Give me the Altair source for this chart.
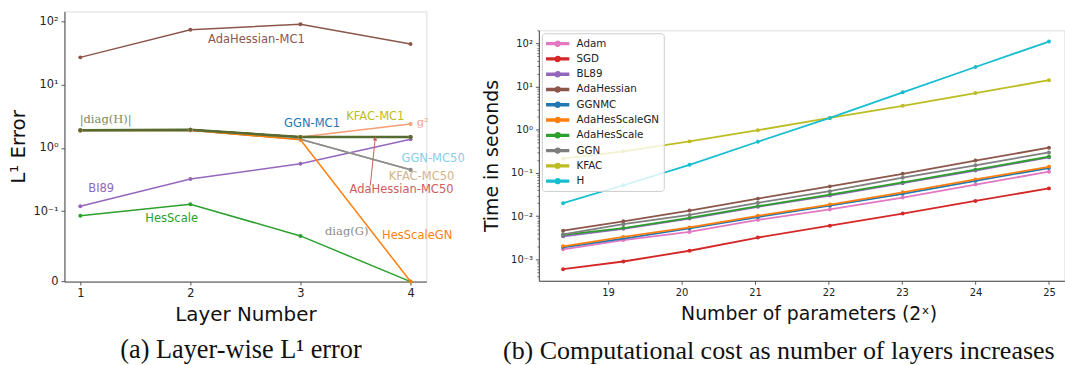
import altair as alt
import pandas as pd

# ---------------- Panel (a): layer-wise L1 error ----------------
layers = [1, 2, 3, 4]
err_bl89 = [0.120, 0.324, 0.562, 1.37]
err_hesscale = [0.0937, 0.129, 0.0649, 0.0]
err_adahessian_mc1 = [27.0, 74.0, 90.0, 44.0]
err_ggn_mc1 = [1.90, 1.94, 1.49, 1.49]
err_kfac_mc1 = [1.90, 1.94, 1.49, 1.49]
err_adahessian_mc50 = [1.90, 1.94, 1.49, 1.49]
err_ggn_mc50 = [1.88, 1.90, 1.37, 0.45]
err_kfac_mc50 = [1.88, 1.90, 1.37, 0.452]
err_diag_g = [1.88, 1.90, 1.37, 0.452]
err_hesscalegn = [1.88, 1.90, 1.35, 0.0]
err_g2 = [1.90, 1.94, 1.49, 2.40]
err_diag_h = [1.90, 1.94, 1.49, 1.49]

series_a = [
    ("BI89", err_bl89, "#9467bd"),
    ("HesScale", err_hesscale, "#2ca02c"),
    ("AdaHessian-MC1", err_adahessian_mc1, "#8c564b"),
    ("GGN-MC1", err_ggn_mc1, "#1f77b4"),
    ("KFAC-MC1", err_kfac_mc1, "#bcbd22"),
    ("AdaHessian-MC50", err_adahessian_mc50, "#cd5c5c"),
    ("GGN-MC50", err_ggn_mc50, "#87ceeb"),
    ("KFAC-MC50", err_kfac_mc50, "#d2b48c"),
    ("diag(G)", err_diag_g, "#8c8c8c"),
    ("HesScaleGN", err_hesscalegn, "#ff7f0e"),
    ("g2", err_g2, "#f79d72"),
    ("|diag(H)|", err_diag_h, "#556b2f"),
]
rows_a = []
for name, vals, col in series_a:
    for l, v in zip(layers, vals):
        rows_a.append({"series": name, "x": l, "v": v, "c": col})
df_a = pd.DataFrame(rows_a)

# annotation labels (text, x, value, colour)
ann_sans_text = ["AdaHessian-MC1", "GGN-MC1", "KFAC-MC1", "GGN-MC50", "KFAC-MC50",
                 "AdaHessian-MC50", "BI89", "HesScale", "HesScaleGN"]
ann_sans_x = [2.60, 3.105, 3.68, 4.205, 4.10, 3.918, 1.19, 1.83, 4.06]
ann_sans_v = [51.6, 2.35, 3.06, 0.665, 0.352, 0.2175, 0.225, 0.0895, 0.0649]
ann_sans_c = ["#8c564b", "#1f77b4", "#bcbd22", "#87ceeb", "#d2b48c",
              "#cd5c5c", "#9467bd", "#2ca02c", "#ff7f0e"]
ann_serif_text = ["|diag(H)|", "g²", "diag(G)"]
ann_serif_x = [1.23, 4.11, 3.42]
ann_serif_v = [2.72, 2.47, 0.0705]
ann_serif_c = ["#7d8a5c", "#f7a27c", "#8c8c8c"]
arrow_from = (3.634, 0.254)
arrow_to = (3.679, 1.416)

df_sans = pd.DataFrame({"label": ann_sans_text, "x": ann_sans_x, "v": ann_sans_v, "c": ann_sans_c})
df_serif = pd.DataFrame({"label": ann_serif_text, "x": ann_serif_x, "v": ann_serif_v, "c": ann_serif_c})
df_arrow = pd.DataFrame({"x": [arrow_from[0]], "v": [arrow_from[1]],
                         "x2": [arrow_to[0]], "v2": [arrow_to[1]]})

SYMLOG = "datum.{f} <= 0.1 ? datum.{f} / 0.1 * 1.1111 : 1.1111 + log(datum.{f} / 0.1) / LN10"

axis_common = dict(grid=False, domainColor="#444", tickColor="#444", labelColor="#222",
                   titleColor="#111", titleFontWeight="normal", tickSize=3.5, tickWidth=0.9,
                   domainWidth=1.0, labelFont="DejaVu Sans", titleFont="DejaVu Sans")

x_a = alt.X("x:Q", scale=alt.Scale(domain=[0.856, 4.144], nice=False, zero=False),
            axis=alt.Axis(values=layers, format="d", title="Layer Number", labelFontSize=11.5,
                          titleFontSize=20, titlePadding=5.5, labelPadding=3, **axis_common))
y_a = alt.Y("t:Q", scale=alt.Scale(domain=[0, 4.268], nice=False, zero=False),
            axis=alt.Axis(values=[0, 1.1111, 2.1111, 3.1111, 4.1111],
                          labelExpr="datum.value < 0.5 ? '0' : datum.value < 1.6 ? '10⁻¹' : datum.value < 2.6 ? '10⁰' : datum.value < 3.6 ? '10¹' : '10²'",
                          title="L¹ Error", labelFontSize=11.5, titleFontSize=20, titlePadding=4,
                          labelPadding=3, **axis_common))
col_a = alt.Color("c:N", scale=None, legend=None)

base_a = alt.Chart(df_a).transform_calculate(t=SYMLOG.format(f="v"))
lines_a = base_a.mark_line(strokeWidth=1.5).encode(x=x_a, y=y_a, color=col_a, detail="series:N")
thick_a = base_a.transform_filter(alt.datum.series == "|diag(H)|").mark_line(strokeWidth=2.6).encode(
    x=x_a, y=y_a, color=col_a)
pts_a = base_a.mark_circle(size=16, opacity=1).encode(x=x_a, y=y_a, color=col_a)
txt_sans = alt.Chart(df_sans).transform_calculate(t=SYMLOG.format(f="v")).mark_text(
    font="DejaVu Sans", fontSize=11.6, align="center", baseline="middle").encode(
    x=x_a, y=y_a, text="label:N", color=col_a)
txt_serif = alt.Chart(df_serif).transform_calculate(t=SYMLOG.format(f="v")).mark_text(
    font="DejaVu Serif", fontSize=11.6, align="center", baseline="middle").encode(
    x=x_a, y=y_a, text="label:N", color=col_a)
arrow_base = alt.Chart(df_arrow).transform_calculate(t=SYMLOG.format(f="v"), t2=SYMLOG.format(f="v2"))
arrow_rule = arrow_base.mark_rule(color="#cd5c5c", strokeWidth=1).encode(
    x=x_a, y=y_a, x2="x2:Q", y2="t2:Q")
arrow_head = arrow_base.mark_point(shape="triangle-up", filled=True, size=22, color="#cd5c5c",
                                   opacity=1, angle=6).encode(
    x=alt.X("x2:Q", scale=alt.Scale(domain=[0.856, 4.144], nice=False, zero=False)),
    y=alt.Y("t2:Q", scale=alt.Scale(domain=[0, 4.268], nice=False, zero=False)))

left = alt.layer(lines_a, thick_a, pts_a, arrow_rule, arrow_head, txt_sans, txt_serif).properties(
    width=365, height=272.4,
    title=alt.TitleParams("(a) Layer-wise L¹ error", orient="bottom", font="Liberation Serif",
                          fontSize=26.5, fontWeight="normal", anchor="middle", frame="group",
                          dx=-4.5, offset=13, color="#111"))

# ---------------- Panel (b): computational cost ----------------
params_log2 = [18.39, 19.21, 20.11, 21.04, 22.02, 23.01, 24.0, 25.0]
t_adam = [0.0017, 0.0028, 0.0043, 0.0082, 0.0143, 0.027, 0.054, 0.107]
t_sgd = [0.00059, 0.00089, 0.00158, 0.0032, 0.0060, 0.0115, 0.0225, 0.044]
t_bl89 = [0.0034, 0.0051, 0.0088, 0.0165, 0.030, 0.058, 0.114, 0.23]
t_adahessian = [0.0046, 0.0076, 0.0135, 0.0255, 0.049, 0.096, 0.194, 0.385]
t_ggnmc = [0.0019, 0.0030, 0.0052, 0.0095, 0.0175, 0.033, 0.066, 0.13]
t_adahesscalegn = [0.0020, 0.0033, 0.0055, 0.0102, 0.0186, 0.0357, 0.071, 0.139]
t_adahesscale = [0.0037, 0.0053, 0.0091, 0.0170, 0.0315, 0.0605, 0.119, 0.24]
t_ggn = [0.0038, 0.0065, 0.0107, 0.0204, 0.038, 0.078, 0.151, 0.30]
t_kfac = [0.215, 0.318, 0.54, 0.98, 1.89, 3.6, 7.1, 14.1]
t_h = [0.020, 0.052, 0.155, 0.53, 1.89, 7.4, 28.5, 111.0]

names_b = ["Adam", "SGD", "BL89", "AdaHessian", "GGNMC", "AdaHesScaleGN", "AdaHesScale", "GGN", "KFAC", "H"]
vals_b = [t_adam, t_sgd, t_bl89, t_adahessian, t_ggnmc, t_adahesscalegn, t_adahesscale, t_ggn, t_kfac, t_h]
colors_b = ["#e377c2", "#d62728", "#9467bd", "#8c564b", "#1f77b4", "#ff7f0e", "#2ca02c", "#7f7f7f", "#bcbd22", "#17becf"]

major_ticks_b = [0.001, 0.01, 0.1, 1, 10, 100]
minor_ticks_b = [m * 10.0 ** k for k in range(-4, 3) for m in range(2, 10)
                 if 3.2e-4 <= m * 10.0 ** k <= 200]

rows_b = []
for name, vals in zip(names_b, vals_b):
    for p, v in zip(params_log2, vals):
        rows_b.append({"series": name, "p": p, "time": v})
df_b = pd.DataFrame(rows_b)

y_scale_b = alt.Scale(type="log", domain=[10 ** -3.497, 10 ** 2.306], nice=False)
x_b = alt.X("p:Q", scale=alt.Scale(domain=[18.06, 25.21], nice=False, zero=False),
            axis=alt.Axis(values=[19, 20, 21, 22, 23, 24, 25], format="d",
                          title="Number of parameters (2ˣ)", labelFontSize=10, titleFontSize=19,
                          titlePadding=8, labelPadding=3, titleX=272, **axis_common))
y_b = alt.Y("time:Q", scale=y_scale_b,
            axis=alt.Axis(values=major_ticks_b,
                          labelExpr="datum.value < 0.005 ? '10⁻³' : datum.value < 0.05 ? '10⁻²' : datum.value < 0.5 ? '10⁻¹' : datum.value < 5 ? '10⁰' : datum.value < 50 ? '10¹' : '10²'",
                          title="Time in seconds", labelFontSize=10, titleFontSize=19,
                          titlePadding=9, labelPadding=3, **axis_common))
y_none_b = alt.Y("time:Q", scale=y_scale_b, axis=None)
y_minor_b = alt.Y("time:Q", scale=y_scale_b,
                  axis=alt.Axis(orient="left", values=minor_ticks_b, labels=False, domain=False,
                                grid=False, title=None, tickSize=2, tickWidth=0.7, tickColor="#444"))
sym_path = ("M-1,-0.17H3V0.17H-1Z"
            "M1.45,0A0.45,0.45,0,1,1,0.55,0A0.45,0.45,0,1,1,1.45,0Z")
legend_b = alt.Legend(title=None, orient="top-left", offset=3, symbolType=sym_path,
                      symbolSize=121, symbolOpacity=1, labelFontSize=10.4, labelFont="DejaVu Sans",
                      labelColor="#222", labelOffset=18, padding=4, rowPadding=3.4,
                      fillColor="rgba(255,255,255,0.8)", strokeColor="#cccccc", cornerRadius=3)
scale_b = alt.Scale(domain=names_b, range=colors_b)

base_b = alt.Chart(df_b)
pts_b = base_b.mark_point(filled=True, size=16, opacity=1).encode(
    x=x_b, y=y_b, color=alt.Color("series:N", scale=scale_b, sort=names_b, legend=legend_b))
lines_b = base_b.mark_line(strokeWidth=1.8).encode(
    x=x_b, y=y_none_b, color=alt.Color("series:N", scale=scale_b, sort=names_b, legend=None))
minor_b = base_b.mark_point(opacity=0).encode(x=x_b, y=y_minor_b)

right = alt.layer(pts_b, lines_b, minor_b).resolve_axis(y="independent").properties(
    width=530, height=252.6,
    title=alt.TitleParams("(b) Computational cost as number of layers increases", orient="bottom",
                          font="Liberation Serif", fontSize=26.2, fontWeight="normal",
                          anchor="middle", frame="group", dx=-23, offset=14, color="#111"))

# blank strip above panel (b) so that its plot starts lower than panel (a)
spacer = alt.Chart(pd.DataFrame({"a": [0]})).mark_point(opacity=0).properties(width=10, height=17.4)
right_col = alt.vconcat(spacer, right, spacing=0).resolve_scale(color="independent").resolve_legend(
    color="independent")

chart = alt.hconcat(left, right_col, spacing=15.4).resolve_scale(color="independent").properties(
    padding={"left": 8, "top": 9, "right": 0, "bottom": 0}
).configure_view(stroke=None).configure(font="DejaVu Sans")

chart.save("out.html", embed_options={"renderer": "svg", "actions": False})
